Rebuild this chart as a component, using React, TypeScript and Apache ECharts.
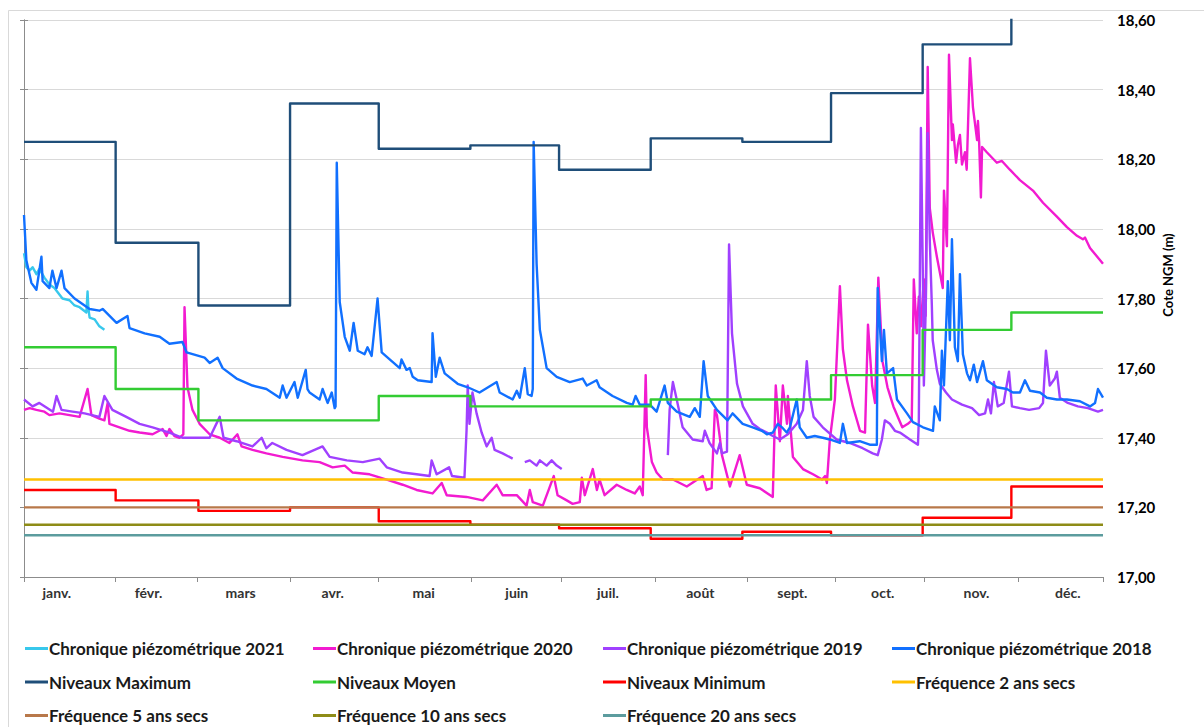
import React, { useEffect, useRef } from "react";
import * as echarts from "echarts";

// ---- Axis definitions (day of year, 0..365) ----
const monthNames = ["janv.", "févr.", "mars", "avr.", "mai", "juin", "juil.", "août", "sept.", "oct.", "nov.", "déc."];
const monthStartDays = [0, 31, 59, 90, 120, 151, 181, 212, 243, 273, 304, 334, 365];
const monthTickDays = [0, 31, 58.7, 90, 120, 151.4, 181.6, 213.7, 244.5, 274.3, 304.4, 336.5, 365];
const monthLabelDays = [11.1, 42.1, 73.3, 104.4, 135.2, 166.7, 197.5, 228.8, 259.9, 290.5, 322.2, 353.1];

// ---- Monthly reference levels (m NGM) ----
const maxLevels = [18.25, 17.96, 17.78, 18.36, 18.23, 18.24, 18.17, 18.26, 18.25, 18.39, 18.53, 18.65];
const meanLevels = [17.66, 17.54, 17.45, 17.45, 17.52, 17.49, 17.49, 17.51, 17.51, 17.58, 17.71, 17.76];
const minLevels = [17.25, 17.22, 17.19, 17.2, 17.16, 17.15, 17.14, 17.11, 17.13, 17.12, 17.17, 17.26];

// ---- Dry-year frequencies ----
const freq2 = 17.28;
const freq5 = 17.2;
const freq10 = 17.15;
const freq20 = 17.12;

// ---- Piezometric chronicles: [day, level] ----
const chron2021: (number | string)[][] = [
  [0, 17.93], [0.8, 17.89], [1.9, 17.88], [2.9, 17.89], [4.2, 17.87], [5.2, 17.885], [6.9, 17.86], [8.6, 17.84],
  [10.3, 17.83], [13, 17.8], [15.4, 17.795], [17.1, 17.78], [18.8, 17.775], [21.1, 17.76], [21.5, 17.82], [21.8, 17.77],
  [22.2, 17.745], [23.9, 17.74], [25.5, 17.72], [27.2, 17.71],
];

const chron2020: (number | string)[][] = [
  [0, 17.48], [1.9, 17.485], [4.2, 17.48], [6.9, 17.475], [8.6, 17.465], [12, 17.47], [15.4, 17.465], [18.8, 17.46],
  [21.5, 17.54], [22.8, 17.465], [25.5, 17.455], [27.2, 17.45], [28.3, 17.5], [28.9, 17.44], [32.3, 17.43], [35.7, 17.42],
  [39.1, 17.415], [43.5, 17.41], [46.9, 17.425], [48.2, 17.405], [49.2, 17.425], [50.9, 17.405], [52.6, 17.4], [53.9, 17.41],
  [54.3, 17.775], [55.3, 17.545], [57, 17.48], [59.4, 17.44], [62.8, 17.41], [66.2, 17.4], [69.5, 17.385], [72.2, 17.41],
  [73.6, 17.375], [77.3, 17.365], [82, 17.355], [87.5, 17.345], [94.2, 17.335], [100, 17.33], [104.4, 17.315], [108.5, 17.32],
  [111.2, 17.3], [116.9, 17.295], [122.7, 17.28], [128.1, 17.265], [132.8, 17.25], [138.2, 17.24], [141.3, 17.27], [143, 17.235],
  [149.7, 17.23], [155.2, 17.22], [159.9, 17.265], [161.9, 17.235], [166.7, 17.235], [170, 17.205], [171.1, 17.25], [172.1, 17.215],
  [175.5, 17.205], [179.2, 17.29], [180.5, 17.235], [183.6, 17.22], [185.6, 17.21], [188, 17.215], [188.7, 17.285], [189.7, 17.235],
  [192.4, 17.31], [193.8, 17.25], [194.7, 17.28], [196.4, 17.235], [200.5, 17.265], [203.9, 17.25], [206.6, 17.24], [208.3, 17.26],
  [209.3, 17.235], [210.3, 17.58], [210.7, 17.43], [212.4, 17.33], [214, 17.3], [216.1, 17.28], [219.5, 17.28], [224.2, 17.26],
  [229.6, 17.29], [230.9, 17.25], [232.6, 17.255], [233.7, 17.48], [234.4, 17.465], [235.4, 17.4], [236.1, 17.35], [238.8, 17.26],
  [242.1, 17.35], [244.5, 17.265], [248.9, 17.255], [253.3, 17.23], [254.3, 17.55], [255.7, 17.39], [256.7, 17.55], [258.1, 17.44],
  [258.4, 17.52], [260.1, 17.345], [263.5, 17.31], [266.9, 17.295], [270, 17.28], [271, 17.29], [271.6, 17.27], [272.6, 17.395],
  [274.3, 17.51], [275.3, 17.7], [276, 17.835], [277, 17.655], [278.4, 17.565], [280.4, 17.49], [282.8, 17.42], [284.5, 17.415],
  [285.5, 17.725], [286.9, 17.55], [287.9, 17.5], [289, 17.86], [290.4, 17.62], [292.1, 17.545], [294.1, 17.49], [297.1, 17.43],
  [299, 17.44], [300.3, 17.45], [301, 17.855], [302, 17.7], [302.7, 17.805], [303.4, 17.72], [304.4, 17.855], [305, 17.75],
  [305.7, 18.465], [306.4, 18.06], [307.4, 17.99], [308.8, 17.92], [309.8, 17.875], [310.8, 17.83], [311.2, 18.11], [312.2, 17.95],
  [312.9, 18.5], [313.9, 18.255], [314.2, 18.3], [315.3, 18.19], [315.9, 18.24], [316.6, 18.27], [317.3, 18.185], [318.3, 18.22],
  [318.9, 18.17], [320, 18.49], [321, 18.35], [322.4, 18.255], [322.7, 18.31], [323.1, 18.25], [323.7, 18.09], [324.1, 18.235],
  [325.7, 18.22], [329.1, 18.19], [330.8, 18.195], [333.5, 18.17], [336.9, 18.14], [341.3, 18.11], [344.7, 18.075], [349.4, 18.035],
  [352.8, 18.005], [356.2, 17.98], [358.2, 17.97], [358.9, 17.975], [360.6, 17.945], [365, 17.9],
];

const chron2019: (number | string)[][] = [
  [0, 17.51], [2.9, 17.49], [5.2, 17.5], [9.8, 17.475], [11, 17.52], [12.7, 17.48], [16.4, 17.475], [20.5, 17.47],
  [25.5, 17.46], [27.2, 17.52], [29.9, 17.48], [34.6, 17.46], [39.1, 17.44], [43.5, 17.43], [49.2, 17.415], [53.6, 17.4],
  [59.4, 17.4], [62.8, 17.4], [66.2, 17.46], [67.5, 17.4], [71.9, 17.39], [77.3, 17.375], [80.4, 17.4], [82, 17.37],
  [84, 17.385], [88.8, 17.365], [94.2, 17.35], [101, 17.375], [103.4, 17.345], [109.2, 17.335], [114.6, 17.33], [120.3, 17.34],
  [122.7, 17.315], [128.1, 17.3], [132.8, 17.295], [137.2, 17.29], [137.9, 17.335], [139.6, 17.295], [143.8, 17.315], [144.8, 17.29],
  [149, 17.285], [149.7, 17.42], [150.1, 17.55], [150.7, 17.44], [151.7, 17.53], [153.1, 17.47], [154.8, 17.415], [156.5, 17.375],
  [158.2, 17.4], [159.2, 17.365], [161.9, 17.355], [165.3, 17.34], [167, "-"],
  [169.4, 17.33], [171.1, 17.335], [173.4, 17.32], [174.5, 17.335], [176.8, 17.32], [178.5, 17.335], [180.2, 17.32], [181.9, 17.31],
  [190, "-"],
  [217.8, 17.35], [218.4, 17.48], [219.5, 17.56], [220.8, 17.51], [222.8, 17.43], [226.2, 17.395], [229.6, 17.39], [230.3, 17.42],
  [231.9, 17.385], [234.4, 17.355], [235.4, 17.385], [236.1, 17.355], [237.8, 17.36], [238.5, 17.955], [239.5, 17.7], [241.2, 17.555],
  [243.2, 17.49], [246.5, 17.44], [248.9, 17.425], [251.3, 17.415], [253.3, 17.405], [255.7, 17.395], [258.4, 17.41], [261.4, 17.44],
  [263.5, 17.48], [264.8, 17.62], [265.8, 17.52], [267.1, 17.46], [270.2, 17.43], [274.9, 17.395], [279.3, 17.385], [283.7, 17.37],
  [287.1, 17.355], [288.8, 17.35], [290.2, 17.395], [291.2, 17.45], [292.9, 17.44], [294.6, 17.42], [296.3, 17.415], [299.7, 17.395],
  [302.4, 17.38], [302.7, 17.45], [303.4, 18.29], [304.1, 17.84], [304.4, 17.55], [305.1, 17.8], [305.7, 18.275], [306.4, 17.97],
  [307.1, 17.78], [307.4, 17.68], [308.8, 17.595], [309.8, 17.555], [311.9, 17.53], [313.9, 17.51], [317.3, 17.495], [320.7, 17.485],
  [323.1, 17.465], [325.1, 17.47], [326.1, 17.51], [327.1, 17.47], [328.1, 17.56], [329.4, 17.49], [331.4, 17.5], [333.2, 17.59],
  [334.2, 17.49], [336.9, 17.485], [340, 17.48], [343.4, 17.485], [344.7, 17.5], [345.7, 17.65], [347, 17.55], [348.7, 17.57],
  [349.4, 17.59], [350.4, 17.515], [353.1, 17.5], [356.5, 17.49], [359.9, 17.485], [363.3, 17.475], [365, 17.48],
];

const chron2018: (number | string)[][] = [
  [0, 18.04], [0.8, 17.91], [2.5, 17.845], [4.2, 17.825], [5.9, 17.92], [6.3, 17.85], [8.6, 17.83], [9.6, 17.88],
  [11, 17.83], [12.7, 17.88], [13.7, 17.83], [17.1, 17.8], [22.2, 17.77], [25.5, 17.765], [26.6, 17.77], [31.3, 17.73],
  [35, 17.75], [35.7, 17.715], [40.8, 17.7], [45.9, 17.69], [49.2, 17.67], [53.6, 17.675], [55, 17.645], [61.1, 17.63],
  [62.8, 17.615], [65.5, 17.63], [67.2, 17.6], [71.9, 17.57], [77.3, 17.55], [82, 17.54], [86.5, 17.515], [87.5, 17.55],
  [88.8, 17.515], [91.5, 17.56], [92.6, 17.515], [95.3, 17.595], [95.9, 17.54], [96.6, 17.53], [100, 17.51], [101, 17.54],
  [102.7, 17.5], [104.1, 17.53], [105.1, 17.485], [105.4, 17.49], [105.8, 18.19], [106.8, 17.79], [108.5, 17.69], [110.2, 17.65],
  [111.5, 17.73], [112.9, 17.65], [115.2, 17.64], [116.2, 17.66], [117.6, 17.635], [119.6, 17.8], [121, 17.645], [123.7, 17.625],
  [127.1, 17.6], [127.7, 17.625], [129.4, 17.595], [130.5, 17.6], [131.5, 17.575], [133.2, 17.565], [137.9, 17.56], [138.2, 17.7],
  [139.3, 17.575], [140.6, 17.63], [142.3, 17.585], [146.7, 17.555], [150.1, 17.545], [154.1, 17.53], [159.9, 17.56], [160.9, 17.53],
  [165.3, 17.51], [166.7, 17.535], [167.7, 17.515], [169.4, 17.6], [170.4, 17.525], [171.7, 17.52], [172.1, 17.54], [172.4, 18.25],
  [173.4, 17.9], [174.5, 17.71], [176.8, 17.6], [180.2, 17.575], [184.6, 17.56], [189, 17.57], [190.4, 17.55], [193.7, 17.565],
  [194.7, 17.545], [199.1, 17.52], [203.9, 17.5], [205.9, 17.495], [206.9, 17.52], [208.3, 17.495], [211.7, 17.495], [214, 17.475],
  [216.7, 17.55], [217.8, 17.5], [220.8, 17.475], [225.2, 17.46], [226.9, 17.485], [228.6, 17.46], [229.9, 17.62], [231.3, 17.52],
  [234.4, 17.48], [238, 17.45], [239.7, 17.47], [243.1, 17.44], [246.5, 17.43], [249.6, 17.42], [251.3, 17.41], [253.3, 17.415],
  [255, 17.44], [256.4, 17.43], [258, 17.415], [259.1, 17.43], [261.4, 17.51], [262.4, 17.43], [264.8, 17.4], [267.5, 17.405],
  [270.2, 17.4], [272.6, 17.395], [276, 17.385], [277, 17.44], [278.4, 17.385], [282.7, 17.39], [286.1, 17.38], [288.5, 17.38],
  [288.8, 17.83], [290.2, 17.62], [290.9, 17.71], [291.9, 17.585], [294, 17.6], [295.3, 17.51], [298.7, 17.47], [300.7, 17.445],
  [304.1, 17.43], [307.5, 17.42], [308.1, 17.49], [309.8, 17.45], [310.5, 17.65], [311.2, 17.55], [312.5, 17.85], [313.2, 17.68],
  [313.9, 17.97], [314.9, 17.66], [315.9, 17.62], [316.6, 17.87], [317.6, 17.64], [319, 17.585], [320, 17.565], [321.3, 17.61],
  [322.4, 17.56], [324.4, 17.62], [325.7, 17.565], [329.1, 17.545], [332.5, 17.54], [334.5, 17.53], [336.9, 17.53], [338.6, 17.565],
  [340.3, 17.535], [343.7, 17.53], [346, 17.515], [349.4, 17.51], [352.8, 17.51], [357.2, 17.505], [360.6, 17.49], [362.3, 17.5],
  [363.3, 17.54], [365, 17.515],
];

const FONT = "Lato, 'Open Sans', sans-serif";
const TEXT = "#1a1a1a";

function stepData(levels: number[]) {
  const pts: number[][] = levels.map((v, i) => [monthStartDays[i], v]);
  pts.push([monthStartDays[12], levels[levels.length - 1]]);
  return pts;
}

function flat(v: number) {
  return [[monthStartDays[0], v], [monthStartDays[12], v]];
}

function line(name: string, data: any[], color: string, width: number, extra: any = {}) {
  return {
    name,
    type: "line",
    data,
    symbol: "none",
    showSymbol: false,
    connectNulls: false,
    clip: true,
    lineStyle: { color, width, join: "round" },
    itemStyle: { color },
    emphasis: { disabled: true },
    z: 2,
    ...extra,
  };
}

function legend(left: number, names: string[]) {
  return {
    orient: "vertical",
    left,
    top: 640,
    padding: 0,
    itemGap: 16.5,
    itemWidth: 23,
    itemHeight: 3,
    icon: "rect",
    selectedMode: false,
    textStyle: { fontFamily: FONT, fontWeight: "bold", fontSize: 17, color: TEXT, padding: [0, 0, 0, -4] },
    data: names,
  };
}

export default function App() {
  const ref = useRef<HTMLDivElement>(null);
  useEffect(() => {
    if (!ref.current) return;
    const chart = echarts.init(ref.current, undefined, { renderer: "svg" });
    const option: any = {
      animation: false,
      backgroundColor: "#ffffff",
      grid: { left: 24, top: 20, width: 1079, height: 557, containLabel: false },
      xAxis: {
        type: "value",
        min: 0,
        max: 365,
        axisLine: { show: true, lineStyle: { color: "#8c8c8c", width: 1 } },
        axisTick: { show: true, length: 5, lineStyle: { color: "#8c8c8c" }, customValues: monthTickDays },
        splitLine: { show: false },
        axisLabel: {
          customValues: monthLabelDays,
          margin: 8,
          hideOverlap: false,
          fontFamily: FONT,
          fontWeight: "bold",
          fontSize: 14,
          color: "#333333",
          formatter: (v: number) => {
            const i = monthLabelDays.indexOf(v);
            return i >= 0 ? monthNames[i] : "";
          },
        },
      },
      yAxis: [
        {
          type: "value",
          position: "right",
          min: 17,
          max: 18.6,
          interval: 0.2,
          axisLine: { show: true, lineStyle: { color: "#8c8c8c", width: 1 } },
          axisTick: { show: true, length: 4, lineStyle: { color: "#8c8c8c" } },
          splitLine: { show: true, lineStyle: { color: "#d9d9d9", width: 1 } },
          axisLabel: {
            margin: 14,
            fontFamily: FONT,
            fontWeight: "bold",
            fontSize: 15,
            color: "#000000",
            formatter: (v: number) => v.toFixed(2).replace(".", ","),
          },
        },
        {
          type: "value",
          position: "left",
          min: 17,
          max: 18.6,
          interval: 0.2,
          axisLine: { show: true, lineStyle: { color: "#8c8c8c", width: 1 } },
          axisTick: { show: true, length: 4, lineStyle: { color: "#8c8c8c" } },
          splitLine: { show: false },
          axisLabel: { show: false },
        },
      ],
      legend: [
        legend(25, ["Chronique piézométrique 2021", "Niveaux Maximum", "Fréquence 5 ans secs"]),
        legend(313, ["Chronique piézométrique 2020", "Niveaux Moyen", "Fréquence 10 ans secs"]),
        legend(603, ["Chronique piézométrique 2019", "Niveaux Minimum", "Fréquence 20 ans secs"]),
        legend(892, ["Chronique piézométrique 2018", "Fréquence 2 ans secs"]),
      ],
      graphic: [
        {
          type: "rect",
          shape: { x: 8.5, y: 10.5, width: 1400, height: 900 },
          style: { fill: "none", stroke: "#d9d9d9", lineWidth: 1 },
          silent: true,
          z: -10,
        },
        {
          type: "text",
          x: 1168,
          y: 275,
          rotation: Math.PI / 2,
          style: {
            text: "Cote NGM (m)",
            fontFamily: FONT,
            fontWeight: "bold",
            fontSize: 13,
            fill: "#000000",
            textAlign: "center",
            textVerticalAlign: "middle",
          },
        },
      ],
      series: [
        line("Chronique piézométrique 2021", chron2021, "#38c8ec", 2.4),
        line("Chronique piézométrique 2020", chron2020, "#f21bd0", 2.4),
        line("Chronique piézométrique 2019", chron2019, "#a040ff", 2.4),
        line("Chronique piézométrique 2018", chron2018, "#1170ff", 2.4),
        line("Niveaux Maximum", stepData(maxLevels), "#1f4e79", 2.4, { step: "end" }),
        line("Niveaux Moyen", stepData(meanLevels), "#33cc33", 2.4, { step: "end" }),
        line("Niveaux Minimum", stepData(minLevels), "#ff0000", 2.4, { step: "end" }),
        line("Fréquence 2 ans secs", flat(freq2), "#ffc000", 2.4),
        line("Fréquence 5 ans secs", flat(freq5), "#b8784a", 2.4),
        line("Fréquence 10 ans secs", flat(freq10), "#8e8c17", 2.4),
        line("Fréquence 20 ans secs", flat(freq20), "#5c9c9e", 2.6),
      ],
    };
    chart.setOption(option);
    return () => chart.dispose();
  }, []);
  return (
    <div
      ref={ref}
      style={{ position: "absolute", left: 0, top: 0, width: 1204, height: 727, background: "#fff" }}
    />
  );
}
